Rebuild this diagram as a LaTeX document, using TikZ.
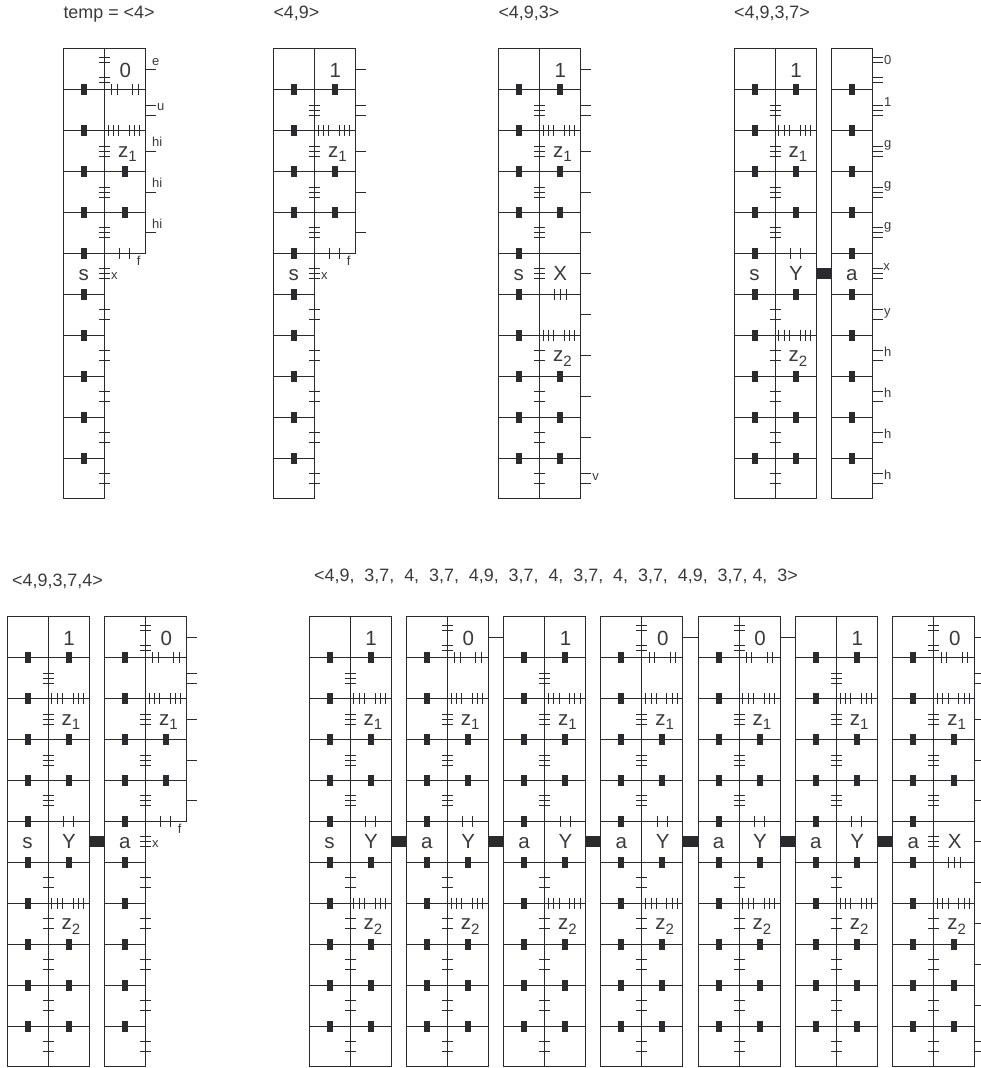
\documentclass[tikz,border=0pt]{standalone}
\usepackage{fontspec}
\setmainfont{Liberation Sans}

\definecolor{inkdark}{HTML}{2B2B2D}
\definecolor{textgray}{HTML}{3A3A3A}
\tikzset{
  edge/.style={line width=0.9pt, draw=inkdark},
  bar/.style={line width=0.9pt, draw=inkdark},
  dotblock/.style={fill=inkdark},
  headline/.style={anchor=base west, inner sep=0pt, text=textgray, font=\fontsize{17.9}{20}\selectfont},
  biglabel/.style={anchor=base, inner sep=0pt, text=textgray, font=\fontsize{20.5}{22}\selectfont},
  tinylabel/.style={anchor=base, inner sep=0pt, text=textgray, font=\fontsize{13}{14}\selectfont}
}
\newcommand{\rowgap}{40.93}
\newcommand{\subdigit}[1]{\raisebox{-4.3pt}{\fontsize{15}{16}\selectfont #1}}

% ticks across the middle line, at row centres
\newcommand{\spinebars}[2]{\foreach \k in {#1} \foreach \d in {#2} \draw[bar] (35.5,{(\k+.5)*\rowgap+\d}) -- ++(11,0);}
% ticks across a row line
\newcommand{\linebars}[3]{\foreach \c in {#2} \foreach \d in {#3} \draw[bar] ({\c+\d},{#1*\rowgap-5.5}) -- ++(0,11);}
\newcommand{\dotbars}[2]{\foreach \k in {#2} \fill[dotblock] ({#1-3},{\k*\rowgap-5.5}) rectangle ++(6,11);}
% ticks hanging off the right edge
\newcommand{\edgeticks}[4]{\foreach \k in {#2} \foreach \d in {#3} \draw[bar] (#1,{(\k+.5)*\rowgap+\d}) -- ++(#4,0);}
\newcommand{\linkright}[1]{\fill[dotblock] (82,219.6) rectangle ++(#1,11);}

\newcommand{\cellframe}[1]{%
  \draw[edge] (0,0) rectangle (41,{11*\rowgap});
  \draw[edge] (41,0) rectangle (82,{#1*\rowgap});
  \foreach \k in {1,...,10} \draw[edge] (0,{\k*\rowgap}) -- (41,{\k*\rowgap});
  \foreach \k in {1,...,#1} \draw[edge] (41,{\k*\rowgap}) -- (82,{\k*\rowgap});
  \dotbars{20.5}{1,...,10}
}
\newcommand{\uppercommon}[1]{%
  \spinebars{2,3,4}{-5,0,5}
  \linebars{2}{50.2,71.3}{-5.3,0,5.3}
  \dotbars{61.5}{3,4}
  \node[biglabel] (#1-zone) at (64,108.6) {z\subdigit{1}};
}
\newcommand{\upperone}[1]{%
  \uppercommon{#1}
  \spinebars{1}{-5,0,5}
  \dotbars{61.5}{1}
  \node[biglabel] (#1-digit) at (62,28.6) {1};
}
\newcommand{\upperzero}[1]{%
  \uppercommon{#1}
  \spinebars{0}{-12,-7,8,13}
  \linebars{1}{51,72}{-2.7,2.7}
  \node[biglabel] (#1-digit) at (62,28.6) {0};
}
\newcommand{\lowercommon}[1]{%
  \spinebars{7,8,9,10}{-5,5}
  \linebars{7}{50.2,71.3}{-5.3,0,5.3}
  \dotbars{61.5}{8,9,10}
  \node[biglabel] (#1-zone2) at (64,313) {z\subdigit{2}};
}
\newcommand{\lowerY}[1]{%
  \lowercommon{#1}
  \spinebars{6}{-5,5}
  \linebars{5}{61.5}{-5,5}
  \dotbars{61.5}{6}
  \node[biglabel] (#1-part) at (62,232) {Y};
}
\newcommand{\lowerX}[1]{%
  \lowercommon{#1}
  \spinebars{5}{-5,0,5}
  \linebars{6}{62}{-5.8,0,5.8}
  \node[biglabel] (#1-part) at (62,232) {X};
}
\newcommand{\loweropen}[1]{%
  \spinebars{5}{-5,0,5}
  \spinebars{6,7,8,9,10}{-5,5}
  \linebars{5}{61.5}{-5,5}
  \node[tinylabel] (#1-f) at (75.4,216.3) {f};
  \node[tinylabel] (#1-x) at (51,230.7) {x};
}
\newcommand{\headtext}[2]{\node[biglabel] (#1-head) at (20.5,232) {#2};}

\begin{document}
\begin{tikzpicture}[x=1pt,y=-1pt]
  \useasboundingbox (0,0) rectangle (981,1068);

  % top row
  \node[headline] (title1) at (63.3,18.3) {temp = <4>};
  \node[headline] (title2) at (273.3,18.3) {<4,9>};
  \node[headline] (title3) at (498.3,18.3) {<4,9,3>};
  \node[headline] (title4) at (734,18.3) {<4,9,3,7>};

  \begin{scope}[shift={(63.3,48.7)}]
    \cellframe{5}
    \upperzero{a1}
    \loweropen{a1}
    \headtext{a1}{s}
    \edgeticks{82}{0,2,3,4}{0}{11}
    \edgeticks{82}{1}{-5,5}{11}
    \node[tinylabel] (a1-e) at (92.4,16.3) {e};
    \node[tinylabel] (a1-u) at (97.4,62) {u};
    \node[tinylabel] (a1-h1) at (94,98) {hi};
    \node[tinylabel] (a1-h2) at (94,139) {hi};
    \node[tinylabel] (a1-h3) at (94,180) {hi};
  \end{scope}

  \begin{scope}[shift={(273.3,48.7)}]
    \cellframe{5}
    \upperone{a2}
    \loweropen{a2}
    \headtext{a2}{s}
    \edgeticks{82}{0,2,3,4}{0}{11}
    \edgeticks{82}{1}{-5,5}{11}
  \end{scope}

  \begin{scope}[shift={(498.3,48.7)}]
    \cellframe{11}
    \upperone{a3}
    \lowerX{a3}
    \headtext{a3}{s}
    \edgeticks{82}{0,2,3,4,5,6,7,8,9}{0}{11}
    \edgeticks{82}{1,10}{-5,5}{11}
    \node[tinylabel] (a3-v) at (97.4,431.3) {v};
  \end{scope}

  \begin{scope}[shift={(734,48.7)}]
    \cellframe{11}
    \upperone{a4}
    \lowerY{a4}
    \headtext{a4}{s}
    \linkright{15.3}
  \end{scope}

  \begin{scope}[shift={(831.3,48.7)}]
    \draw[edge] (0,0) rectangle (41,{11*\rowgap});
    \foreach \k in {1,...,10} \draw[edge] (0,{\k*\rowgap}) -- (41,{\k*\rowgap});
    \dotbars{20.5}{1,...,10}
    \headtext{a5}{a}
    \edgeticks{41}{0}{-12,-7,8,13}{11}
    \edgeticks{41}{1,2,3,4,5}{-5,0,5}{11}
    \edgeticks{41}{6,7,8,9,10}{-5,5}{11}
    \node[tinylabel] (a5-t0) at (56.4,15.6) {0};
    \node[tinylabel] (a5-t1) at (56.4,57.3) {1};
    \node[tinylabel] (a5-t2) at (56.4,99) {g};
    \node[tinylabel] (a5-t3) at (56.4,140) {g};
    \node[tinylabel] (a5-t4) at (56.4,181) {g};
    \node[tinylabel] (a5-t5) at (55.4,221.3) {x};
    \node[tinylabel] (a5-t6) at (56,267) {y};
    \foreach \k in {0,1,2,3} \node[tinylabel] (a5-h\k) at (56.4,{308+\k*\rowgap}) {h};
  \end{scope}

  % bottom row
  \node[headline] (title5) at (12,586.7) {<4,9,3,7,4>};
  \node[headline] (title6) at (314,581.7) {<4,9,\ \ 3,7,\ \ 4,\ \ 3,7,\ \ 4,9,\ \ 3,7,\ \ 4,\ \ 3,7,\ \ 4,\ \ 3,7,\ \ 4,9,\ \ 3,7, 4,\ \ 3>};

  \begin{scope}[shift={(7,616.7)}]
    \cellframe{11}
    \upperone{c1}
    \lowerY{c1}
    \headtext{c1}{s}
    \linkright{15.3}
  \end{scope}

  \begin{scope}[shift={(104.3,616.7)}]
    \cellframe{5}
    \upperzero{c2}
    \loweropen{c2}
    \headtext{c2}{a}
    \edgeticks{82}{0,2,3,4}{0}{11}
    \edgeticks{82}{1}{-5,5}{11}
  \end{scope}

  \foreach \blk/\kind/\headword in {1/one/s,2/zero/a,3/one/a,4/zero/a,5/zero/a,6/one/a} {
    \begin{scope}[shift={({309+97.25*(\blk-1)},616.7)}]
      \cellframe{11}
      \csname upper\kind\endcsname{b\blk}
      \lowerY{b\blk}
      \headtext{b\blk}{\headword}
      \linkright{15.25}
    \end{scope}
  }
  \foreach \blk in {2,4,5} {
    \begin{scope}[shift={({309+97.25*(\blk-1)},616.7)}]
      \edgeticks{82}{0}{0}{15.25}
    \end{scope}
  }
  \begin{scope}[shift={(892.7,616.7)}]
    \cellframe{11}
    \upperzero{b7}
    \lowerX{b7}
    \headtext{b7}{a}
    \edgeticks{82}{0,2,3,4,5,6,7,8,9}{0}{6.3}
    \edgeticks{82}{1,10}{-5,5}{6.3}
  \end{scope}
\end{tikzpicture}
\end{document}
